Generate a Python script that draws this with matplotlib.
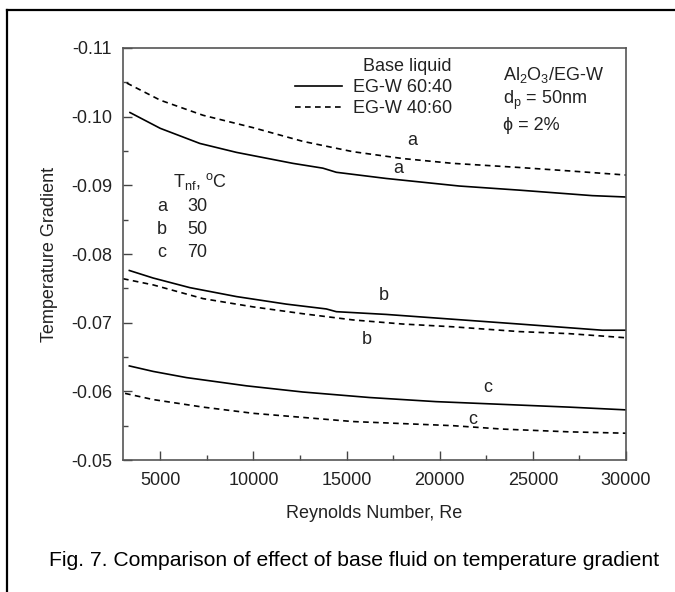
import matplotlib
matplotlib.use("Agg")
import matplotlib.pyplot as plt
from matplotlib.lines import Line2D
from matplotlib.ticker import MultipleLocator

plt.rcParams['font.family'] = ['Liberation Sans', 'DejaVu Sans']
plt.rcParams['mathtext.default'] = 'regular'

# curves: Reynolds number vs temperature gradient
# "a" = 30 C, "b" = 50 C, "c" = 70 C ; solid = EG-W 60:40, dashed = EG-W 40:60
re_a_6040 = [3375, 5000, 7125, 9090, 12120, 13730, 14450, 17130, 21050, 24270, 28190, 30000]
tg_a_6040 = [-0.1006, -0.0983, -0.0961, -0.0948, -0.0932, -0.0925, -0.0919, -0.0910, -0.0899, -0.0893, -0.0885, -0.0883]
re_a_4060 = [3200, 5000, 7300, 9980, 12660, 15340, 18020, 20700, 24270, 26950, 30000]
tg_a_4060 = [-0.1049, -0.1024, -0.1002, -0.0984, -0.0964, -0.0949, -0.0939, -0.0932, -0.0926, -0.0921, -0.0915]

re_b_6040 = [3340, 4620, 6590, 9090, 11770, 13910, 14450, 17130, 20700, 24270, 28730, 30000]
tg_b_6040 = [-0.0776, -0.0765, -0.0751, -0.0738, -0.0727, -0.0720, -0.0716, -0.0712, -0.0705, -0.0698, -0.0689, -0.0689]
re_b_4060 = [3000, 4620, 7300, 9980, 12660, 15340, 18020, 20700, 24270, 26950, 30000]
tg_b_4060 = [-0.0764, -0.0755, -0.0735, -0.0723, -0.0713, -0.0704, -0.0698, -0.0694, -0.0687, -0.0684, -0.0678]

re_c_6040 = [3340, 4620, 6410, 9630, 12660, 16230, 19800, 23370, 26950, 30000]
tg_c_6040 = [-0.0637, -0.0629, -0.0620, -0.0608, -0.0599, -0.0591, -0.0585, -0.0581, -0.0577, -0.0573]
re_c_4060 = [3110, 4620, 7300, 9980, 12660, 15340, 18020, 20700, 23370, 26950, 30000]
tg_c_4060 = [-0.0597, -0.0588, -0.0577, -0.0568, -0.0562, -0.0556, -0.0553, -0.0550, -0.0545, -0.0541, -0.0539]

# curve letters: (letter, Re, value)
curve_labels = [("a", 18550, -0.0966), ("a", 17750, -0.0925),
                ("b", 17000, -0.0739), ("b", 16090, -0.0676),
                ("c", 22570, -0.0605), ("c", 21800, -0.0559)]
temp_letters = ["a", "b", "c"]
temp_values = ["30", "50", "70"]

FS = 13
TXT = "#222222"

fig = plt.figure(figsize=(6.75, 5.92), dpi=100)
ax = fig.add_axes([123/675, 1-460/592, 503/675, 412/592])

dash = (0, (3.4, 2.6))
ax.plot(re_a_6040, tg_a_6040, color="black", lw=1.2)
ax.plot(re_a_4060, tg_a_4060, color="black", lw=1.2, linestyle=dash)
ax.plot(re_b_6040, tg_b_6040, color="black", lw=1.2)
ax.plot(re_b_4060, tg_b_4060, color="black", lw=1.2, linestyle=dash)
ax.plot(re_c_6040, tg_c_6040, color="black", lw=1.2)
ax.plot(re_c_4060, tg_c_4060, color="black", lw=1.2, linestyle=dash)

for lab, x, y in curve_labels:
    ax.text(x, y, lab, fontsize=FS, ha="center", va="center", color=TXT)

ax.set_xlim(3000, 30000)
ax.set_ylim(-0.05, -0.11)
ax.xaxis.set_major_locator(MultipleLocator(5000))
ax.xaxis.set_minor_locator(MultipleLocator(2500))
ax.yaxis.set_major_locator(MultipleLocator(0.01))
ax.yaxis.set_minor_locator(MultipleLocator(0.005))
ax.yaxis.set_major_formatter(plt.FuncFormatter(lambda v, p: "%.2f" % v))
ax.tick_params(which="both", direction="in", top=False, right=False,
               colors="#444444", labelcolor=TXT, labelsize=FS, width=1.0)
ax.tick_params(which="major", length=6.5)
ax.tick_params(which="minor", length=3.5)
ax.tick_params(axis="x", pad=8.5)
ax.tick_params(axis="y", pad=8.0)
for sp in ax.spines.values():
    sp.set_color("#555555")
    sp.set_linewidth(1.2)

ax.set_xlabel("Reynolds Number, Re", fontsize=FS, color=TXT)
ax.set_ylabel("Temperature Gradient", fontsize=FS, color=TXT)
ax.xaxis.set_label_coords(0.5, -0.11)
ax.yaxis.set_label_coords(-0.13, 0.5)

handles = [Line2D([], [], color="black", lw=1.2),
           Line2D([], [], color="black", lw=1.2, linestyle=dash)]
leg = ax.legend(handles, ["EG-W 60:40", "EG-W 40:60"], title="Base liquid",
                loc="upper left", bbox_to_anchor=(295/675, 1-58/592),
                bbox_transform=fig.transFigure, frameon=False, fontsize=FS,
                title_fontsize=FS, handlelength=2.6, handletextpad=0.6,
                labelspacing=0.22, borderpad=0, borderaxespad=0,
                alignment="right")
for t in leg.get_texts():
    t.set_color(TXT)
leg.get_title().set_color(TXT)

ax.text(503/675, 1-75/592, "Al$_2$O$_3$/EG-W", transform=fig.transFigure,
        fontsize=FS, va="center", color=TXT)
ax.text(503/675, 1-100/592, "d$_p$ = 50nm", transform=fig.transFigure,
        fontsize=FS, va="center", color=TXT)
ax.text(503/675, 1-126/592, "\u03d5 = 2%", transform=fig.transFigure,
        fontsize=FS, va="center", color=TXT)

# temperature key
ax.text(173/675, 1-182/592, "T$_{nf}$, $^{o}$C", transform=fig.transFigure,
        fontsize=FS, va="center", color=TXT)
for i in range(len(temp_letters)):
    yy = 1 - (206.7 + i*23) / 592
    fig.text(162/675, yy, temp_letters[i], fontsize=FS, ha="center", va="center", color=TXT)
    fig.text(197/675, yy, temp_values[i], fontsize=FS, ha="center", va="center", color=TXT)

fig.text(354/675, 1-560/592, "Fig. 7. Comparison of effect of base fluid on temperature gradient",
         fontsize=15.2, ha="center", va="center", color="black")

# frame around the figure (only top and left visible in the cropped original)
fig.add_artist(Line2D([7/675, 7/675], [0, 1-10/592], transform=fig.transFigure, color="black", lw=1.6))
fig.add_artist(Line2D([7/675, 1], [1-10/592, 1-10/592], transform=fig.transFigure, color="black", lw=1.6))

fig.savefig("out.png", dpi=100)
